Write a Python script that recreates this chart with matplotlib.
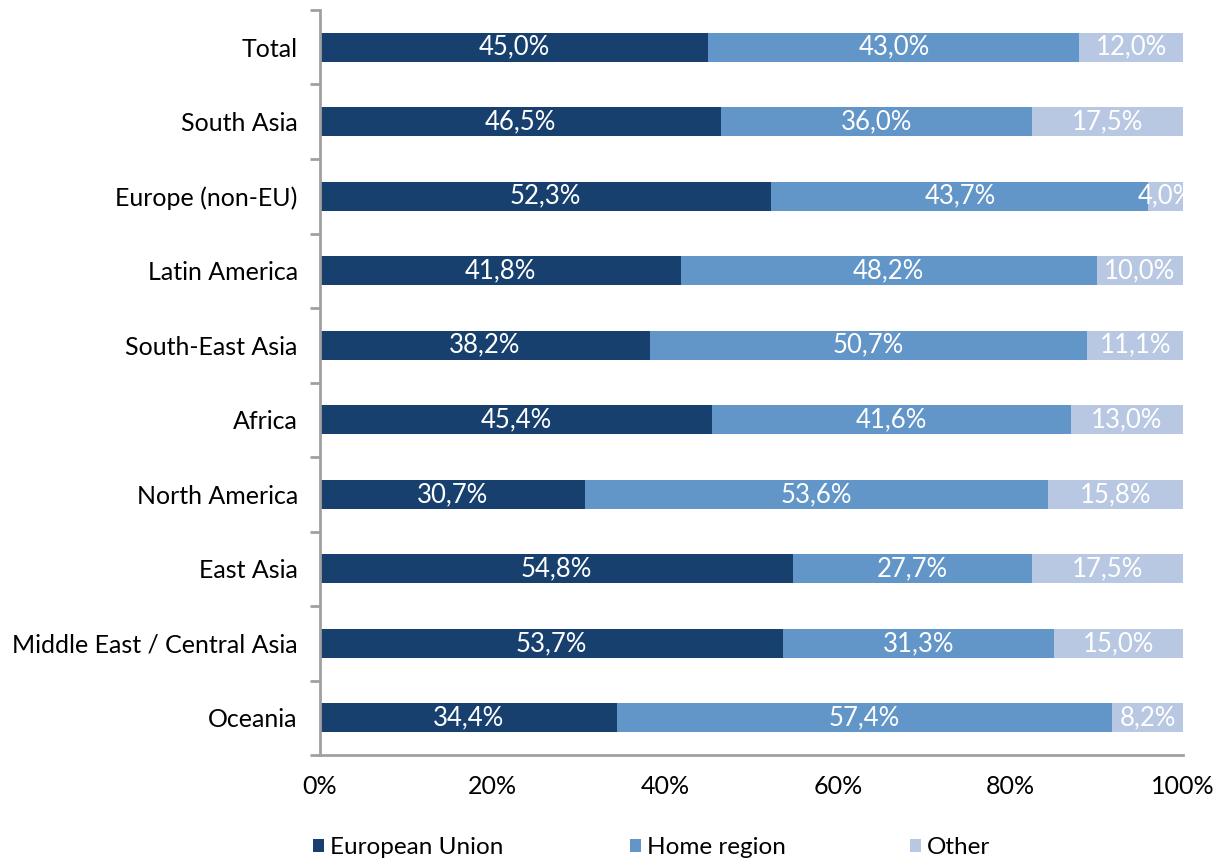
import numpy as np
import matplotlib.pyplot as plt
from matplotlib.ticker import FixedLocator, PercentFormatter

plt.rcParams['font.family'] = ['Lato', 'DejaVu Sans']

regions = ["Total", "South Asia", "Europe (non-EU)", "Latin America", "South-East Asia",
           "Africa", "North America", "East Asia", "Middle East / Central Asia", "Oceania"]
eu = [45.0, 46.5, 52.3, 41.8, 38.2, 45.4, 30.7, 54.8, 53.7, 34.4]
home = [43.0, 36.0, 43.7, 48.2, 50.7, 41.6, 53.6, 27.7, 31.3, 57.4]
other = [12.0, 17.5, 4.0, 10.0, 11.1, 13.0, 15.8, 17.5, 15.0, 8.2]

series = [("European Union", eu, "#17406f"),
          ("Home region", home, "#6295c8"),
          ("Other", other, "#b8c7e2")]

fig = plt.figure(figsize=(12.23, 8.66), dpi=100)
ax = fig.add_axes([0.2617, 0.128, 0.7056, 0.8605])

y = np.arange(len(regions))
left = np.zeros(len(regions))
handles = []
for name, vals, col in series:
    vals = np.array(vals)
    bars = ax.barh(y, vals, left=left, height=0.39, color=col, label=name)
    handles.append(bars)
    for yi, l, v in zip(y, left, vals):
        ax.text(l + v / 2, yi, f"{v:.1f}%".replace(".", ","), ha="center", va="center",
                color="white", fontsize=18.5)
    left += vals

ax.set_xlim(0, 100)
ax.set_ylim(len(regions) - 0.5, -0.5)
ax.set_yticks(y)
ax.set_yticklabels(regions, fontsize=18)
ax.yaxis.set_minor_locator(FixedLocator(np.arange(-0.5, len(regions), 1.0)))
ax.tick_params(axis="y", which="major", length=0, pad=16)
ax.tick_params(axis="y", which="minor", length=7, width=2, color="#a0a0a0")
ax.xaxis.set_major_formatter(PercentFormatter(decimals=0))
ax.set_xticks(np.arange(0, 101, 20))
ax.tick_params(axis="x", length=0, pad=14, labelsize=18)

for s in ["top", "right"]:
    ax.spines[s].set_visible(False)
for s in ["left", "bottom"]:
    ax.spines[s].set_color("#a0a0a0")
    ax.spines[s].set_linewidth(2)

# one legend per entry so each sits where the original puts it
for h, (name, _, _), xpos in zip(handles, series, [0.256, 0.515, 0.744]):
    leg = fig.legend([h], [name], loc="center left", bbox_to_anchor=(xpos, 0.021),
                     frameon=False, fontsize=17.5, handlelength=0.45, handleheight=0.45,
                     handletextpad=0.25, borderpad=0, borderaxespad=0)

fig.savefig("out.png", dpi=100)
